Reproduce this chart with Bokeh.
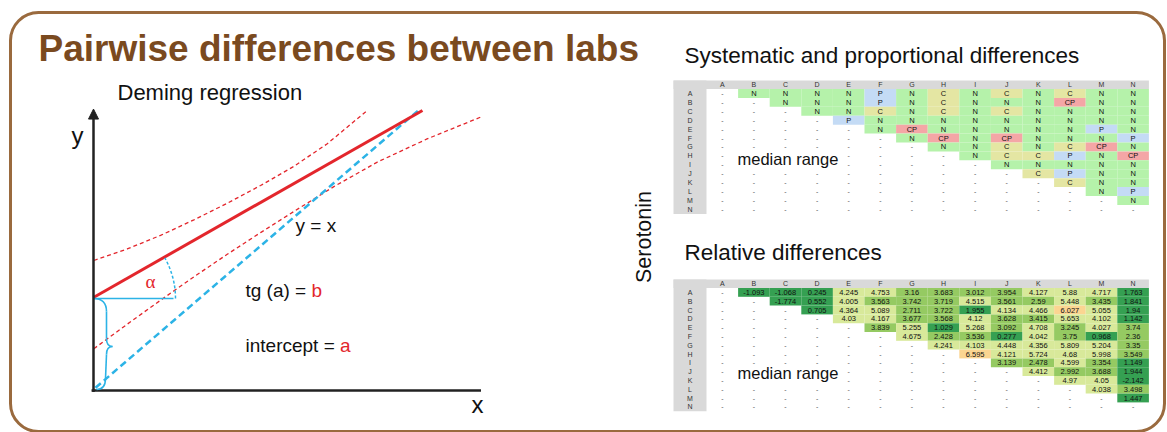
import math
from bokeh.plotting import figure
from bokeh.models import Range1d, Arrow, NormalHead
from bokeh.embed import file_html
from bokeh.resources import INLINE
from bokeh.core.properties import value

# ---------------- data ----------------
labs = ["A", "B", "C", "D", "E", "F", "G", "H", "I", "J", "K", "L", "M", "N"]

# Systematic / proportional differences, upper triangle (row lab vs later labs)
sys_upper = [
    ["N", "N", "N", "N", "P", "N", "C", "N", "C", "N", "C", "N", "N"],
    ["N", "N", "N", "P", "N", "C", "N", "N", "N", "CP", "N", "N"],
    ["N", "N", "C", "N", "C", "N", "C", "N", "N", "N", "N"],
    ["P", "N", "N", "N", "N", "N", "N", "N", "N", "N"],
    ["N", "CP", "N", "N", "N", "N", "N", "P", "N"],
    ["N", "CP", "N", "CP", "N", "N", "N", "P"],
    ["N", "N", "C", "N", "C", "CP", "N"],
    ["N", "C", "C", "P", "N", "CP"],
    ["N", "N", "N", "N", "N"],
    ["C", "P", "N", "N"],
    ["C", "N", "N"],
    ["N", "P"],
    ["N"],
    [],
]

# Relative differences, upper triangle
rel_upper = [
    [-1.093, -1.068, 0.245, 4.245, 4.753, 3.16, 3.683, 3.012, 3.954, 4.127, 5.88, 4.717, 1.763],
    [-1.774, 0.552, 4.005, 3.563, 3.742, 3.719, 4.515, 3.561, 2.59, 5.448, 3.435, 1.841],
    [0.705, 4.364, 5.089, 2.711, 3.722, 1.955, 4.134, 4.466, 6.027, 5.055, 1.94],
    [4.03, 4.167, 3.677, 3.568, 4.12, 3.628, 3.415, 5.653, 4.102, 1.142],
    [3.839, 5.255, 1.029, 5.268, 3.092, 4.708, 3.245, 4.027, 3.74],
    [4.675, 2.428, 3.536, 0.277, 4.042, 3.75, 0.968, 2.36],
    [4.241, 4.103, 4.448, 4.356, 5.809, 5.204, 3.35],
    [6.595, 4.121, 5.724, 4.68, 5.998, 3.549],
    [3.139, 2.478, 4.599, 3.354, 1.149],
    [4.412, 2.992, 3.688, 1.944],
    [4.97, 4.05, -2.142],
    [4.038, 3.498],
    [1.447],
    [],
]

# Deming regression schematic (diagram units, y = x has slope 1)
fit_x = [0, 100.6]
fit_y = [33, 99.3]
identity_x = [0.6, 100]
identity_y = [0.95, 100]
upper_x = [0.1, 10.3, 20.5, 30.7, 40.9, 51.1, 61.3, 71.5, 83.7]
upper_y = [46.1, 50.2, 55.0, 60.5, 66.4, 72.7, 79.5, 87.5, 99.3]
lower_x = [0.1, 10.3, 20.5, 30.7, 40.9, 51.1, 61.3, 73.5, 86.8, 102.0, 118.3]
lower_y = [14.8, 23.5, 32.0, 40.3, 48.3, 56.0, 63.5, 72.3, 81.0, 89.2, 96.9]

# ---------------- canvas ----------------
W, H = 1167, 432


def Y(ry):
    return H - ry


p = figure(width=W, height=H, x_range=Range1d(0, W), y_range=Range1d(0, H),
           output_backend="svg", toolbar_location=None, min_border=0,
           x_axis_location=None, y_axis_location=None)
p.grid.visible = False
p.outline_line_color = None
p.background_fill_color = "white"
p.border_fill_color = "white"

FONT = value("Liberation Sans")


def txt(x, y, s, size, color="#111111", align="left", baseline="alphabetic",
        style="normal", angle=0.0, font=FONT):
    p.text(x=[x], y=[Y(y)], text=[s], text_font=font, text_font_size=size,
           text_color=color, text_align=align, text_baseline=baseline,
           text_font_style=style, angle=angle)


# slide frame
p.quad(left=[10], right=[1164], top=[Y(12)], bottom=[Y(431)], fill_color=None,
       line_color="#9a6a3e", line_width=3, border_radius=28)

txt(38, 48, "Pairwise differences between labs", "37px", color="#7a4a1f", style="bold")

# ---------------- Deming diagram ----------------
OX, OY, SX, SY = 93, 390, 3.27, 2.82


def dxs(us):
    return [OX + u * SX for u in us]


def dys(vs):
    return [Y(OY - v * SY) for v in vs]


RED = "#e3262c"
BLUE = "#2cb3e6"

txt(117, 92, "Deming regression", "22px")

# axes
p.line(dxs([-0.6, 118.5]), dys([0, 0]), line_color="#222222", line_width=2.5)
p.add_layout(Arrow(end=NormalHead(size=10, fill_color="#222222", line_color="#222222"),
                   x_start=OX, y_start=Y(OY + 1.5), x_end=OX, y_end=Y(OY - 99.8 * SY),
                   line_color="#222222", line_width=2.5))
txt(71, 135, "y", "24px")
txt(471, 404, "x", "24px")

# confidence band, identity and fit
p.line(dxs(upper_x), dys(upper_y), line_color=RED, line_width=1.3, line_dash="4 3")
p.line(dxs(lower_x), dys(lower_y), line_color=RED, line_width=1.3, line_dash="4 3")
p.line(dxs(identity_x), dys(identity_y), line_color=BLUE, line_width=2.5, line_dash="7 4")
p.line(dxs(fit_x), dys(fit_y), line_color=RED, line_width=3)

# angle and intercept decorations
ix, iy = dxs([0])[0], dys([fit_y[0]])[0]
ang = math.atan2((fit_y[1] - fit_y[0]) * SY, (fit_x[1] - fit_x[0]) * SX)
p.segment(x0=[ix], y0=[iy - 1], x1=[ix + 80], y1=[iy - 1], line_color=BLUE, line_width=1.6)
p.arc(x=[ix], y=[iy - 1], radius=82, radius_units="screen", start_angle=0, end_angle=ang,
      direction="anticlock", line_color=BLUE, line_width=1.5, line_dash="3 2")
# curly brace
p.quadratic(x0=[ix, ix + 13, ix + 19, ix + 12], y0=[iy - 1, Y(338), Y(346), Y(378)],
            cx=[ix + 13, ix + 13, ix + 13, ix + 12], cy=[iy - 1, Y(346), Y(346), Y(389)],
            x1=[ix + 13, ix + 19, ix + 13, ix + 3], y1=[Y(311), Y(346), Y(354), Y(389)],
            line_color=BLUE, line_width=1.6)
p.segment(x0=[ix + 13, ix + 13], y0=[Y(311), Y(354)], x1=[ix + 13, ix + 12],
          y1=[Y(338), Y(378)], line_color=BLUE, line_width=1.6)

txt(145, 281, "\u03b1", "19px", color=RED, font=value("Liberation Serif"))
txt(295, 225, "y = x", "19px")
txt(245, 290, "tg (a) = ", "19px")
txt(311, 290, "b", "19px", color=RED)
txt(245, 345, "intercept = ", "19px")
txt(339.5, 345, "a", "19px", color=RED)

# ---------------- tables ----------------
txt(643, 236.5, "Serotonin", "21.5px", align="center", angle=math.pi / 2)

LEFT, COL0, CW = 673, 706, 31.6
SYS_COL = {"N": "#b5f2aa", "P": "#c4dbf5", "C": "#e4e6a3", "CP": "#f4a6a6"}


def rel_color(v):
    if v < 2:
        return "#35a052"
    if v < 4:
        return "#95ca62"
    if v < 6:
        return "#d8e99a"
    return "#fbd591"


def draw_table(htop, pitch, upper, fmt, colorer, note_base):
    hh = 8.5
    n = len(labs)
    rtop = htop + hh
    right = COL0 + n * CW
    bottom = rtop + n * pitch
    # gray header band and row-label column
    p.quad(left=[LEFT], right=[right], top=[Y(htop)], bottom=[Y(rtop)],
           fill_color="#d9d9d9", line_color=None)
    p.quad(left=[LEFT], right=[COL0], top=[Y(htop)], bottom=[Y(bottom)],
           fill_color="#d9d9d9", line_color=None)
    cx = [COL0 + CW * (j + 0.5) for j in range(n)]
    cy = [rtop + pitch * (i + 0.5) for i in range(n)]
    p.text(x=cx, y=[Y(htop + hh / 2)] * n, text=labs, text_font=FONT, text_font_size="7px",
           text_color="#333333", text_align="center", text_baseline="middle")
    p.text(x=[(LEFT + COL0) / 2] * n, y=[Y(c) for c in cy], text=labs, text_font=FONT,
           text_font_size="7px", text_color="#333333", text_align="center",
           text_baseline="middle")
    note = (735, 842, note_base - 8, note_base + 8)
    fx, fy, fc, tx, ty, tt = [], [], [], [], [], []
    dx_, dy_ = [], []
    for i in range(n):
        for j in range(n):
            if j > i:
                v = upper[i][j - i - 1]
                fx.append(cx[j]); fy.append(Y(cy[i])); fc.append(colorer(v))
                tx.append(cx[j]); ty.append(Y(cy[i])); tt.append(fmt(v))
            else:
                if note[0] <= cx[j] <= note[1] and note[2] <= cy[i] <= note[3]:
                    continue
                dx_.append(cx[j]); dy_.append(Y(cy[i]))
    p.rect(x=fx, y=fy, width=CW, height=pitch, fill_color=fc, line_color=None)
    p.text(x=tx, y=ty, text=tt, text_font=FONT, text_font_size="7.5px", text_color="#111111",
           text_align="center", text_baseline="middle")
    p.text(x=dx_, y=dy_, text=["-"] * len(dx_), text_font=FONT, text_font_size="7px",
           text_color="#555555", text_align="center", text_baseline="middle")
    txt(737, note_base, "median range", "16.5px")


txt(684, 55, "Systematic and proportional differences", "22.5px")
draw_table(80, 8.92, sys_upper, lambda v: v, lambda v: SYS_COL[v], 158)

txt(684, 252, "Relative differences", "22.5px")
draw_table(279, 8.8, rel_upper, lambda v: f"{v:g}", rel_color, 372)

open("out.html", "w").write(file_html(p, INLINE))
